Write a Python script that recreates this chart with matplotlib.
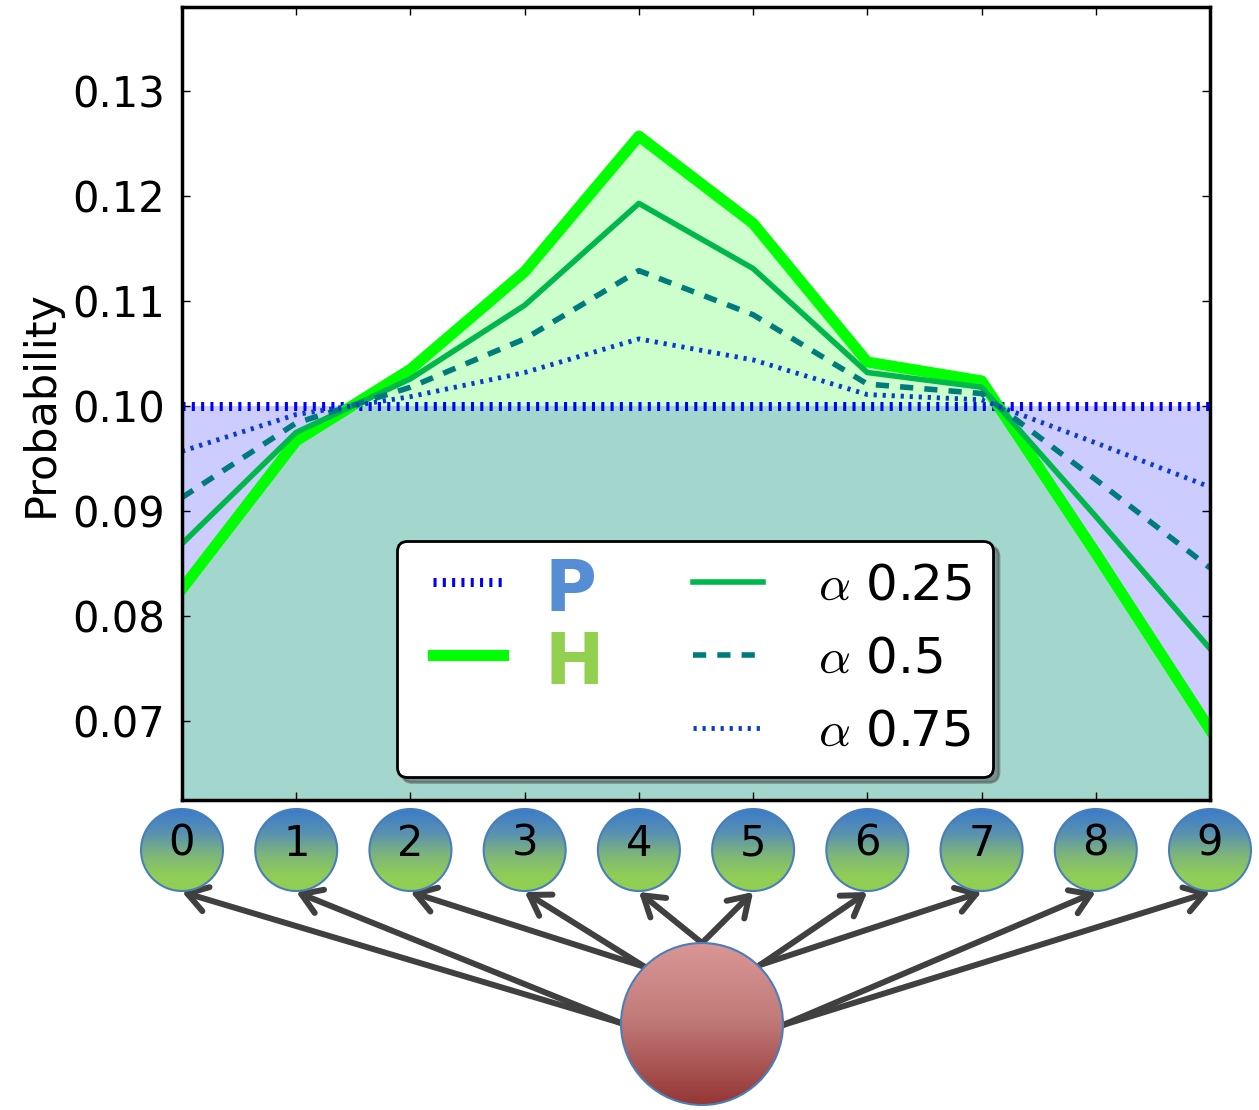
import matplotlib
matplotlib.use("Agg")
import matplotlib.pyplot as plt
import numpy as np
from matplotlib.colors import LinearSegmentedColormap
from matplotlib.patches import Circle, FancyArrowPatch
from matplotlib.lines import Line2D

# values
states = list(range(10))
p_vals = [0.1, 0.1, 0.1, 0.1, 0.1, 0.1, 0.1, 0.1, 0.1, 0.1]
h_vals = [0.0826, 0.0967, 0.1035, 0.1128, 0.1257, 0.1174, 0.1042, 0.1024, 0.0860, 0.0692]
a25_vals = [0.0869, 0.0975, 0.1026, 0.1096, 0.1193, 0.1131, 0.1032, 0.1018, 0.0895, 0.0769]
a50_vals = [0.0913, 0.0984, 0.1018, 0.1064, 0.1129, 0.1087, 0.1021, 0.1012, 0.0930, 0.0846]
a75_vals = [0.0957, 0.0992, 0.1009, 0.1032, 0.1064, 0.1044, 0.1011, 0.1006, 0.0965, 0.0923]
alpha_labels = [r"$\alpha$ 0.25", r"$\alpha$ 0.5", r"$\alpha$ 0.75"]
yticks = [0.07, 0.08, 0.09, 0.10, 0.11, 0.12, 0.13]

plt.rcParams["mathtext.fontset"] = "cm"
plt.rcParams["lines.scale_dashes"] = False

W, H = 1259, 1110
fig = plt.figure(figsize=(W / 100, H / 100), dpi=100)
ax = fig.add_axes([182 / W, 310 / H, 1028 / W, 793 / H])

ax.fill_between(states, p_vals, 0, color="blue", alpha=0.2, lw=0)
ax.fill_between(states, h_vals, 0, color="lime", alpha=0.2, lw=0)

lp, = ax.plot(states, p_vals, color="blue", lw=6.5, ls=(0, (2.2, 4.5)), label=" ")
lh, = ax.plot(states, h_vals, color="lime", lw=8, label=" ")
l25, = ax.plot(states, a25_vals, color="#00b84a", lw=4, label=alpha_labels[0])
l50, = ax.plot(states, a50_vals, color="#007b7b", lw=4, ls=(0, (9.5, 8)), label=alpha_labels[1])
l75, = ax.plot(states, a75_vals, color="#0a3ccc", lw=3.5, ls=(0, (2.3, 4.2)), label=alpha_labels[2])
blank = Line2D([], [], color="none", label=" ")

ax.set_xlim(0, 9)
ax.set_ylim(0.0625, 0.138)
ax.set_xticks(states)
ax.set_yticks(yticks)
ax.set_yticklabels([f"{t:.2f}" for t in yticks])
ax.tick_params(direction="in", length=6, width=1, top=True, right=True,
               labelbottom=False, labelsize=30, pad=12)
for s in ax.spines.values():
    s.set_linewidth(2.5)
ax.set_ylabel("Probability", fontsize=31, labelpad=8)

leg = ax.legend(handles=[lp, lh, blank, l25, l50, l75], ncol=2, loc="center",
                bbox_to_anchor=(0.499, 0.178), fontsize=36, numpoints=2,
                handlelength=2.0, handletextpad=0.8, labelspacing=0.5,
                borderpad=0.42, columnspacing=2.1, fancybox=True,
                shadow={"ox": 4, "oy": -4}, framealpha=1)
leg.get_frame().set_edgecolor("black")
leg.get_frame().set_linewidth(2)

# big coloured P / H next to their legend handles
fig.canvas.draw()
renderer = fig.canvas.get_renderer()
for handle, txt, col in zip(leg.legend_handles[:2], ["P", "H"], ["#558ed5", "#92d050"]):
    bb = handle.get_window_extent(renderer)
    yc = (bb.y0 + bb.y1) / 2
    ax.annotate(txt, xy=(bb.x1 + 42, yc - 29), xycoords="figure pixels",
                fontsize=51, fontweight="bold", color=col, ha="left", va="baseline",
                annotation_clip=False, zorder=10)

# node diagram under the axes, in pixel coords (top-down)
ov = fig.add_axes([0, 0, 1, 1], zorder=-1)
ov.axis("off")

blue_green = LinearSegmentedColormap.from_list(
    "bg", [(0.0, "#3a7bca"), (0.3, "#5a92b0"), (0.55, "#7db47c"), (0.8, "#8fcd58"), (1.0, "#92d050")])
reds = LinearSegmentedColormap.from_list(
    "rd", [(0.0, "#d99694"), (0.45, "#c27d7b"), (1.0, "#943634")])
grad = np.linspace(0, 1, 256).reshape(-1, 1)

def node(cx, cy, r, cmap):
    circ = Circle((cx, cy), r, facecolor="none", edgecolor="#4a7ebb", lw=1.5, zorder=3)
    ov.add_patch(circ)
    im = ov.imshow(grad, cmap=cmap, extent=(cx - r, cx + r, cy + r, cy - r),
                   aspect="auto", zorder=2)
    im.set_clip_path(circ)

root = (702, 1024)
root_r = 81
starts = [(621, 1023), (621, 1023), (645, 967), (645, 967), (702, 943),
          (702, 943), (760, 965), (760, 965), (783, 1025), (783, 1025)]
node_y, node_r = 850, 41
for i in states:
    cx = ax.transData.transform((i, 0.1))[0]
    node(cx, node_y, node_r, blue_green)
    ov.text(cx, node_y + 6, str(i), ha="center", va="baseline", fontsize=30, zorder=4)
    arr = FancyArrowPatch(posA=starts[i], posB=(cx, node_y + node_r + 1),
                          arrowstyle="->,head_length=0.7,head_width=0.45",
                          mutation_scale=20, lw=4.3, color="#404040",
                          shrinkA=0, shrinkB=0, zorder=1)
    ov.add_patch(arr)
node(root[0], root[1], root_r, reds)

ov.set_xlim(0, W)
ov.set_ylim(H, 0)

fig.savefig("out.png", dpi=100)
